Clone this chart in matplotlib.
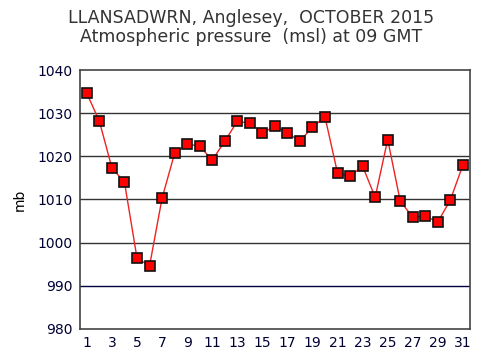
import numpy as np
import matplotlib.pyplot as plt

# === Data ===
days = np.arange(1, 32)
pressure = [1034.6, 1028.1, 1017.3, 1014.0, 996.4, 994.6, 1010.3, 1020.7, 1022.8, 1022.4,
            1019.1, 1023.5, 1028.1, 1027.7, 1025.4, 1027.0, 1025.4, 1023.5, 1026.8, 1029.1,
            1016.1, 1015.4, 1017.7, 1010.5, 1023.9, 1009.6, 1005.9, 1006.1, 1004.8, 1009.9,
            1018.0]
yticks = [980, 990, 1000, 1010, 1020, 1030, 1040]
xticks = np.arange(1, 32, 2)

fig = plt.figure(figsize=(5.03, 3.63), dpi=100)
ax = fig.add_axes([0.159, 0.094, 0.775, 0.713])

# grid lines
for v in [1000, 1010, 1020, 1030]:
    ax.axhline(v, color='#333333', lw=1.0, zorder=1)
ax.axhline(990, color='#000040', lw=1.0, zorder=1)

ax.plot(days, pressure, '-', color='#ee2222', lw=1, zorder=2)
ax.plot(days, pressure, 's', ms=7.5, mfc='#ff0000', mec='#111111', mew=1.2, zorder=3)

ax.set_xlim(0.45, 31.55)
ax.set_ylim(980, 1040)
ax.set_xticks(xticks)
ax.set_yticks(yticks)
ax.tick_params(length=0, labelsize=10, colors='#000033', pad=5)
for s in ax.spines.values():
    s.set_color('#444444')
    s.set_linewidth(1.2)
ax.set_ylabel("mb", fontsize=10, labelpad=8)

fig.text(0.5, 0.975, "LLANSADWRN, Anglesey,  OCTOBER 2015\nAtmospheric pressure  (msl) at 09 GMT",
         ha='center', va='top', fontsize=12.5, color='#333333', linespacing=1.05)

fig.savefig("out.png", dpi=100)
